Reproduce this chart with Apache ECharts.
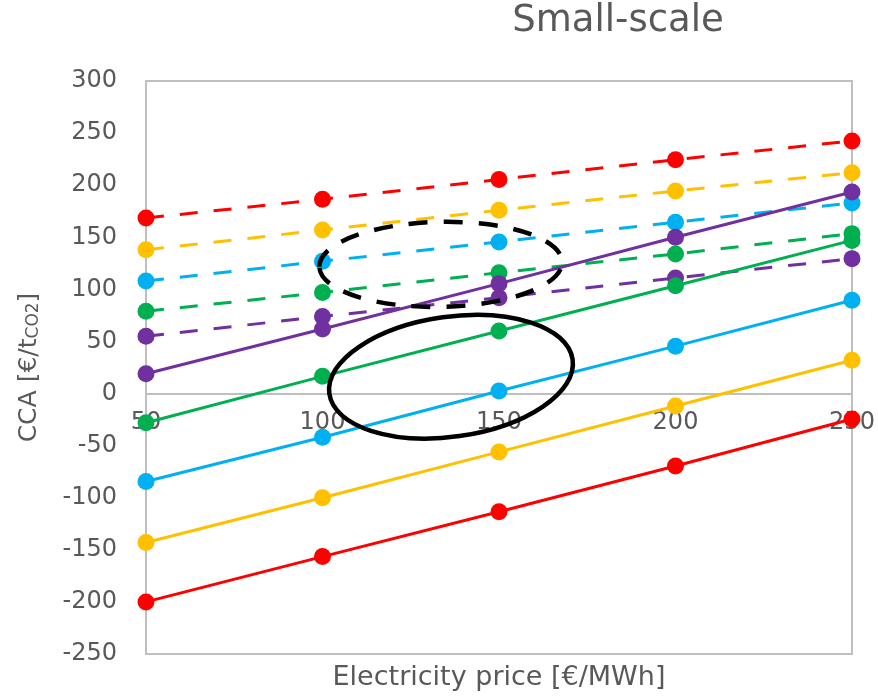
<!DOCTYPE html>
<html>
<head>
<meta charset="utf-8">
<script src="https://cdn.jsdelivr.net/npm/echarts@6/dist/echarts.min.js"></script>
<style>
  html, body { margin: 0; padding: 0; background: #ffffff; }
  #chart { width: 878px; height: 696px; }
</style>
</head>
<body>
<div id="chart"></div>
<script>
// Electricity price categories (€/MWh)
const prices = [50, 100, 150, 200, 250];

// Y axis range (€/tCO2)
const yMin = -250, yMax = 300, yStep = 50;

// CCA values, dashed series
const dashedRed    = [168.5, 186.5, 205.5, 224.5, 242.5];
const dashedOrange = [138, 157, 176, 194.5, 212];
const dashedBlue   = [108, 127, 145.5, 164.5, 183];
const dashedGreen  = [79, 97, 116, 134, 153.5];
const dashedPurple = [55, 74, 92, 111, 129.5];

// CCA values, solid series
const solidPurple = [19, 62, 105.5, 150, 193.5];
const solidGreen  = [-28, 16.5, 60, 103.5, 147];
const solidBlue   = [-84.5, -42, 2.5, 45.5, 89.5];
const solidOrange = [-143, -100, -56, -12, 32];
const solidRed    = [-200, -156.5, -113.5, -69.5, -24.5];

// Highlight ellipses, given in data units: centre, half-width, half-height, tilt (rad)
const dashedRing = { x: 133.5, y: 124, hw: 34.4, hh: 40.8, tilt: 0.02 };
const solidRing  = { x: 136.4, y: 16.2, hw: 34.8, hh: 57.6, tilt: 0.14 };

const FONT = 'DejaVu Sans';
const GREY_TEXT = '#595959';
const GREY_LINE = '#BFBFBF';
const C = { red: '#FF0000', orange: '#FFC000', blue: '#00B0F0', green: '#00B050', purple: '#7030A0' };

function pairs(vals) { return prices.map((p, i) => [p, vals[i]]); }

function lineSeries(name, vals, color, dashed) {
  return {
    name: name,
    type: 'line',
    data: pairs(vals),
    symbol: 'circle',
    symbolSize: 17,
    showSymbol: true,
    itemStyle: { color: color },
    lineStyle: { color: color, width: 3, type: dashed ? [18, 16] : 'solid' },
    emphasis: { disabled: true },
    animation: false
  };
}

const chart = echarts.init(document.getElementById('chart'), null, { renderer: 'canvas' });

chart.setOption({
  animation: false,
  backgroundColor: '#ffffff',
  grid: {
    left: 146, right: 26, top: 81, bottom: 42,
    show: true, borderColor: GREY_LINE, borderWidth: 2, backgroundColor: 'transparent'
  },
  xAxis: {
    type: 'value',
    min: prices[0], max: prices[prices.length - 1], interval: 50,
    axisLine: { show: true, onZero: false, lineStyle: { color: GREY_LINE, width: 2 } },
    axisTick: { show: false },
    splitLine: { show: false },
    axisLabel: { color: GREY_TEXT, fontSize: 24, fontFamily: FONT, margin: 17 }
  },
  yAxis: {
    type: 'value',
    min: yMin, max: yMax, interval: yStep,
    axisLine: { show: true, onZero: false, lineStyle: { color: GREY_LINE, width: 2 } },
    axisTick: { show: false },
    splitLine: { show: false },
    axisLabel: { color: GREY_TEXT, fontSize: 24, fontFamily: FONT, margin: 29 },
    name: '{a|CCA [€/t}{b|CO2}{a|]}',
    nameLocation: 'middle',
    nameGap: 104,
    nameRotate: 90,
    nameTextStyle: {
      color: GREY_TEXT,
      fontFamily: FONT,
      rich: {
        a: { fontSize: 25, lineHeight: 25, color: GREY_TEXT, fontFamily: FONT, verticalAlign: 'top' },
        b: { fontSize: 17, lineHeight: 17, color: GREY_TEXT, fontFamily: FONT, verticalAlign: 'bottom' }
      }
    }
  },
  series: [
    lineSeries('dashed purple', dashedPurple, C.purple, true),
    lineSeries('dashed green', dashedGreen, C.green, true),
    lineSeries('dashed blue', dashedBlue, C.blue, true),
    lineSeries('dashed orange', dashedOrange, C.orange, true),
    lineSeries('dashed red', dashedRed, C.red, true),
    lineSeries('solid red', solidRed, C.red, false),
    lineSeries('solid orange', solidOrange, C.orange, false),
    lineSeries('solid blue', solidBlue, C.blue, false),
    lineSeries('solid green', solidGreen, C.green, false),
    lineSeries('solid purple', solidPurple, C.purple, false)
  ]
});

function toPx(x, y) { return chart.convertToPixel({ gridIndex: 0 }, [x, y]); }

// The price axis (line and labels) crosses the CCA axis at zero
const zeroY = toPx(prices[0], 0)[1];
const bottomY = toPx(prices[0], yMin)[1];
chart.setOption({ xAxis: { offset: -(bottomY - zeroY) } });

function ring(r, dashed) {
  const c = toPx(r.x, r.y);
  const ex = toPx(r.x + r.hw, r.y);
  const ey = toPx(r.x, r.y + r.hh);
  return {
    type: 'ellipse',
    x: c[0], y: c[1],
    rotation: r.tilt,
    shape: { cx: 0, cy: 0, rx: Math.abs(ex[0] - c[0]), ry: Math.abs(ey[1] - c[1]) },
    style: { fill: 'none', stroke: '#000000', lineWidth: 4.5, lineDash: dashed ? [19, 16] : null },
    z: 100
  };
}

const leftX = toPx(prices[0], 0)[0];
const rightX = toPx(prices[prices.length - 1], 0)[0];

chart.setOption({
  graphic: [
    {
      type: 'text', x: 618, y: 21, z: 100,
      style: { text: 'Small-scale', fill: GREY_TEXT, font: '37px "DejaVu Sans"', align: 'center', verticalAlign: 'middle' }
    },
    {
      type: 'text', x: (leftX + rightX) / 2, y: bottomY + 24, z: 100,
      style: { text: 'Electricity price [€/MWh]', fill: GREY_TEXT, font: '27px "DejaVu Sans"', align: 'center', verticalAlign: 'middle' }
    },
    ring(dashedRing, true),
    ring(solidRing, false)
  ]
});
</script>
</body>
</html>
